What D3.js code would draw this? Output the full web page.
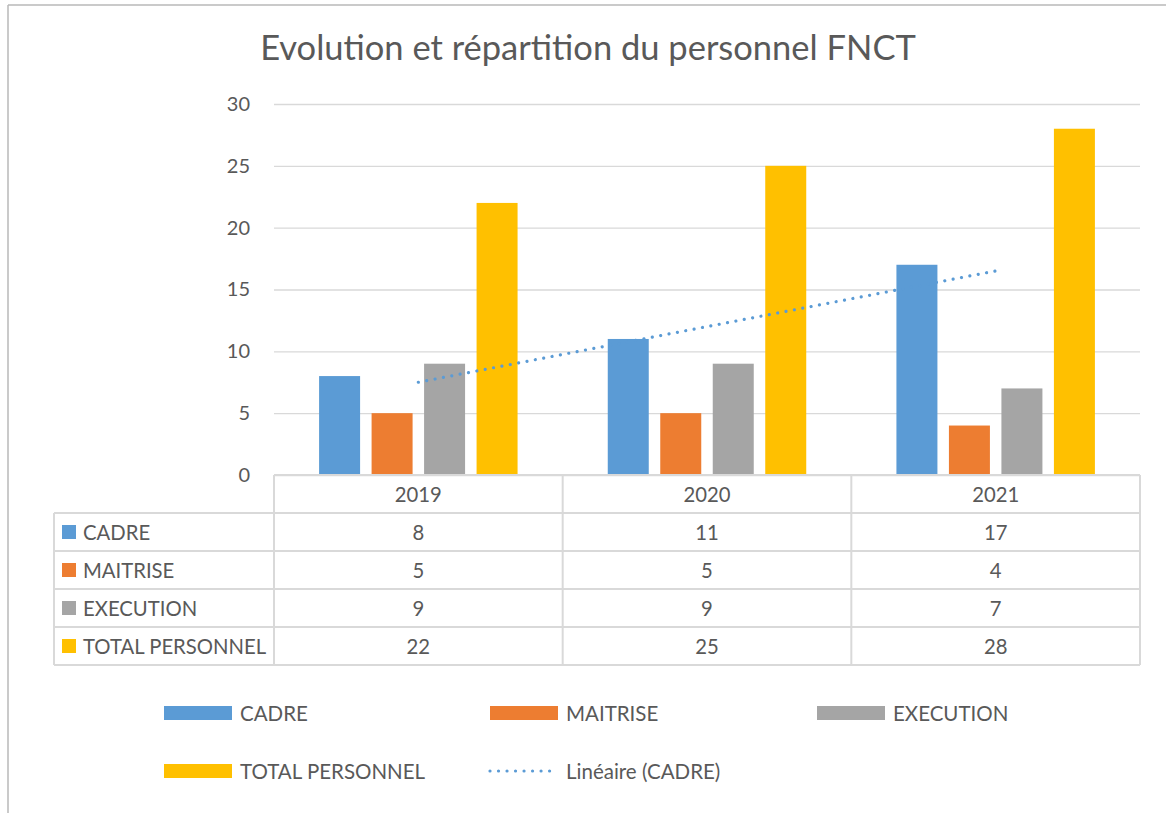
<!DOCTYPE html>
<html>
<head>
<meta charset="utf-8">
<script src="https://cdn.jsdelivr.net/npm/d3@7"></script>
<style>
  body { margin: 0; background: #fff; }
  text { font-family: Lato, "Open Sans", sans-serif; fill: #595959; }
</style>
</head>
<body>
<div id="chart"></div>
<script>
// data
const years = ["2019", "2020", "2021"];
const seriesNames = ["CADRE", "MAITRISE", "EXECUTION", "TOTAL PERSONNEL"];
const cadre = [8, 11, 17];
const maitrise = [5, 5, 4];
const execution = [9, 9, 7];
const totalPersonnel = [22, 25, 28];
const yTicks = [0, 5, 10, 15, 20, 25, 30];
const trendLabel = "Linéaire (CADRE)";
const title = "Evolution et répartition du personnel FNCT";

const seriesValues = [cadre, maitrise, execution, totalPersonnel];
const colors = ["#5b9bd5", "#ed7d31", "#a5a5a5", "#ffc000"];

const width = 1166, height = 813;
const plotLeft = 274, plotRight = 1140, plotTop = 104, plotBottom = 475;
const gridColor = "#d9d9d9";

const svg = d3.select("#chart").append("svg").attr("width", width).attr("height", height);

// chart frame (only top + left visible in the crop)
svg.append("line").attr("x1", 8).attr("y1", 5).attr("x2", width).attr("y2", 5)
  .attr("stroke", "#b8b8b8").attr("stroke-width", 1.5);
svg.append("line").attr("x1", 8).attr("y1", 5).attr("x2", 8).attr("y2", height)
  .attr("stroke", "#b8b8b8").attr("stroke-width", 1.5);

svg.append("text")
  .attr("x", 588).attr("y", 60)
  .attr("text-anchor", "middle")
  .style("font-size", "34.5px")
  .text(title);

const x = d3.scaleBand().domain(years).range([plotLeft, plotRight]).padding(0);
const xi = d3.scaleBand().domain(seriesNames).range([0, x.bandwidth()])
  .paddingInner(0.219).paddingOuter(0.859);
const y = d3.scaleLinear().domain([0, 30]).range([plotBottom, plotTop]);

// gridlines + tick labels
const yAxis = svg.append("g")
  .attr("transform", `translate(${plotLeft},0)`)
  .call(d3.axisLeft(y).tickValues(yTicks).tickSize(-(plotRight - plotLeft)).tickPadding(24));
yAxis.select(".domain").remove();
yAxis.selectAll(".tick line").attr("stroke", gridColor).attr("stroke-width", 1.3);
yAxis.selectAll(".tick text")
  .style("font-size", "20px").style("font-family", "Lato, 'Open Sans', sans-serif")
  .attr("fill", "#595959");

// bars
const barData = [];
seriesNames.forEach((s, si) => {
  years.forEach((yr, yi) => barData.push({ series: s, si: si, year: yr, value: seriesValues[si][yi] }));
});

svg.append("g").selectAll("rect")
  .data(barData)
  .enter()
  .append("rect")
  .attr("x", d => x(d.year) + xi(d.series))
  .attr("y", d => y(d.value))
  .attr("width", xi.bandwidth())
  .attr("height", d => y(0) - y(d.value))
  .attr("fill", d => colors[d.si]);

// linear trendline for CADRE (least squares on 1..n)
const n = cadre.length;
const xs = d3.range(1, n + 1);
const mx = d3.mean(xs), my = d3.mean(cadre);
const slope = d3.sum(xs, (v, i) => (v - mx) * (cadre[i] - my)) / d3.sum(xs, v => (v - mx) * (v - mx));
const intercept = my - slope * mx;
const trendPts = [0, n - 1].map(i => [x(years[i]) + x.bandwidth() / 2, y(intercept + slope * (i + 1))]);

svg.append("path")
  .attr("d", d3.line()(trendPts))
  .attr("fill", "none")
  .attr("stroke", colors[0])
  .attr("stroke-width", 3.2)
  .attr("stroke-linecap", "round")
  .attr("stroke-dasharray", "0.01 8.5");

// data table
const rows = d3.scaleBand().domain(["header"].concat(seriesNames)).range([plotBottom, 665]);
const tableLeft = 54;
const table = svg.append("g").attr("stroke", gridColor).attr("stroke-width", 2).attr("fill", "none");

// horizontal lines
table.append("line").attr("x1", plotLeft).attr("x2", plotRight).attr("y1", rows("header")).attr("y2", rows("header"));
seriesNames.forEach(s => {
  table.append("line").attr("x1", tableLeft).attr("x2", plotRight).attr("y1", rows(s)).attr("y2", rows(s));
});
table.append("line").attr("x1", tableLeft).attr("x2", plotRight).attr("y1", 665).attr("y2", 665);
// vertical lines
table.append("line").attr("x1", tableLeft).attr("x2", tableLeft).attr("y1", rows(seriesNames[0])).attr("y2", 665);
years.forEach(yr => {
  table.append("line").attr("x1", x(yr)).attr("x2", x(yr)).attr("y1", plotBottom).attr("y2", 665);
});
table.append("line").attr("x1", plotRight).attr("x2", plotRight).attr("y1", plotBottom).attr("y2", 665);

const tableText = svg.append("g").style("font-size", "20.3px");
years.forEach(yr => {
  tableText.append("text")
    .attr("x", x(yr) + x.bandwidth() / 2)
    .attr("y", rows("header") + rows.bandwidth() / 2)
    .attr("text-anchor", "middle")
    .attr("dominant-baseline", "central")
    .text(yr);
});
seriesNames.forEach((s, si) => {
  const cy = rows(s) + rows.bandwidth() / 2;
  tableText.append("rect")
    .attr("x", 62).attr("y", cy - 7).attr("width", 14).attr("height", 14)
    .attr("fill", colors[si]);
  tableText.append("text")
    .attr("x", 83).attr("y", cy)
    .attr("dominant-baseline", "central")
    .text(s);
  years.forEach((yr, yi) => {
    tableText.append("text")
      .attr("x", x(yr) + x.bandwidth() / 2)
      .attr("y", cy)
      .attr("text-anchor", "middle")
      .attr("dominant-baseline", "central")
      .text(seriesValues[si][yi]);
  });
});

// legend
const legendItems = seriesNames.map((s, i) => ({ label: s, color: colors[i], type: "bar" }))
  .concat([{ label: trendLabel, color: colors[0], type: "trend" }]);
const legendX = [164, 490, 817];
const legendY = [713, 771];

const legend = svg.append("g").style("font-size", "20.5px");
legendItems.forEach((d, i) => {
  const lx = legendX[i % 3], ly = legendY[Math.floor(i / 3)];
  if (d.type === "bar") {
    legend.append("rect").attr("x", lx).attr("y", ly - 7).attr("width", 68).attr("height", 14).attr("fill", d.color);
  } else {
    legend.append("line").attr("x1", lx).attr("x2", lx + 64).attr("y1", ly).attr("y2", ly)
      .attr("stroke", d.color).attr("stroke-width", 3.2)
      .attr("stroke-linecap", "round").attr("stroke-dasharray", "0.01 8.5");
  }
  legend.append("text")
    .attr("x", lx + 76).attr("y", ly)
    .attr("dominant-baseline", "central")
    .text(d.label);
});
</script>
</body>
</html>
